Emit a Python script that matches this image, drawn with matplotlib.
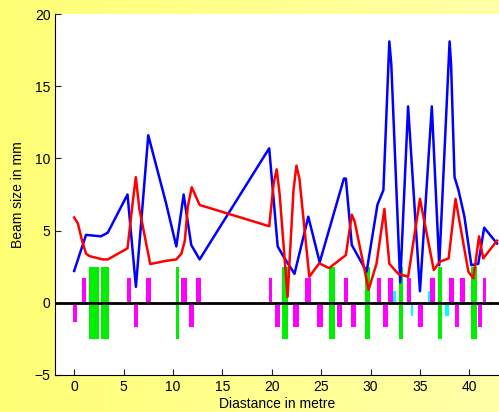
import numpy as np
import matplotlib.pyplot as plt

plt.rcParams['font.family'] = ['Liberation Sans', 'DejaVu Sans']

# beam envelopes along the line (metres, mm)
blue_s = [0.0, 1.2, 2.7, 3.4, 5.4, 6.25, 7.5, 9.3, 10.34, 11.08, 11.85, 12.7,
          19.74, 20.6, 21.1, 22.3, 23.7, 24.85, 27.3, 27.5, 28.1, 29.6, 30.7,
          31.3, 31.9, 32.1, 33.0, 33.8, 35.0, 36.2, 36.95, 38.0, 38.15, 38.5,
          38.9, 39.5, 40.2, 40.9, 41.5, 42.8]
blue_y = [2.2, 4.7, 4.6, 4.85, 7.5, 1.1, 11.6, 6.9, 3.9, 7.5, 4.0, 3.0,
          10.7, 3.9, 3.3, 2.0, 5.96, 2.8, 8.6, 8.6, 4.0, 2.15, 6.8,
          7.8, 18.1, 16.5, 1.4, 13.6, 0.8, 13.6, 2.6, 18.1, 16.5, 8.7,
          7.8, 5.96, 2.6, 2.7, 5.2, 4.1]

red_s = [0.0, 0.37, 0.8, 1.2, 1.55, 2.9, 3.4, 5.4, 5.9, 6.24, 6.6, 7.7, 9.27,
         10.34, 10.85, 11.2, 11.5, 11.9, 12.7, 19.74, 20.2, 20.5, 20.8,
         21.6, 22.2, 22.5, 22.8, 23.8, 24.8, 25.8, 27.5, 28.1, 28.4, 29.8,
         30.6, 31.4, 31.9, 32.8, 33.8, 35.0, 36.4, 37.0, 37.9, 38.6, 39.9,
         40.4, 40.98, 41.4, 42.8]
red_y = [5.9, 5.5, 4.3, 3.4, 3.23, 3.0, 3.0, 3.77, 6.8, 8.7, 6.5, 2.68, 2.9,
         3.0, 3.4, 4.3, 6.65, 8.0, 6.77, 5.3, 8.3, 9.24, 7.5,
         0.4, 7.8, 9.5, 8.6, 1.8, 2.73, 2.4, 3.3, 6.1, 5.6, 0.9,
         2.7, 6.5, 2.7, 2.0, 1.8, 7.2, 2.26, 2.84, 3.07, 7.2, 2.15,
         1.7, 4.6, 3.07, 4.3]

# lattice elements: centre, length, strength
mag_s = [0.13, 1.01, 5.57, 6.23, 7.52, 11.1, 11.85, 12.55, 19.88, 20.55,
         22.5, 23.7, 24.9, 26.85, 27.5, 28.25, 30.9, 31.55, 32.03, 33.9,
         35.07, 36.25, 38.17, 38.73, 39.33, 41.05, 41.52]
mag_w = [0.4, 0.4, 0.38, 0.4, 0.44, 0.6, 0.5, 0.5, 0.37, 0.5,
         0.6, 0.6, 0.6, 0.5, 0.4, 0.5, 0.4, 0.5, 0.45, 0.47,
         0.45, 0.5, 0.45, 0.46, 0.46, 0.45, 0.37]
mag_h = [-1.3, 1.7, 1.7, -1.7, 1.7, 1.7, -1.7, 1.7, 1.7, -1.7,
         -1.7, 1.7, -1.7, -1.7, 1.7, -1.7, 1.7, -1.7, 1.7, 1.7,
         -1.7, 1.7, 1.7, -1.7, 1.7, -1.7, 1.7]

grn_s = [2.04, 3.1, 10.43, 21.34, 26.1, 29.65, 33.08, 37.05, 40.5]
grn_w = [1.0, 0.77, 0.33, 0.52, 0.7, 0.5, 0.36, 0.37, 0.6]

cyn_s = [32.45, 34.2, 35.93, 37.74]
cyn_w = [0.3, 0.2, 0.25, 0.45]
cyn_h = [0.83, -0.9, 0.83, -0.9]

fig = plt.figure(figsize=(4.99, 4.12), dpi=100)

# yellow backdrop fading to the right
bg = fig.add_axes([0, 0, 1, 1], zorder=0)
grad = np.linspace(0, 1, 256).reshape(1, -1)
c0 = np.array([1.0, 1.0, 0.46])
c1 = np.array([1.0, 1.0, 0.66])
img = c0 + (c1 - c0) * grad[..., None]
bg.imshow(img, aspect='auto', extent=[0, 1, 0, 1])
bg.axis('off')

ax = fig.add_axes([0.111, 0.09, 0.889, 0.876], zorder=1)
ax.set_facecolor('white')

ax.bar(mag_s, mag_h, width=mag_w, color='#ff00ff', zorder=2)
ax.bar(grn_s, [5.0] * len(grn_s), width=grn_w, bottom=-2.5, color='#00ee00', zorder=3)
ax.bar(cyn_s, cyn_h, width=cyn_w, color='#00ffff', zorder=2)
ax.axhline(0, color='black', lw=2, zorder=4)

ax.plot(blue_s, blue_y, color='blue', lw=1.8, zorder=5)
ax.plot(red_s, red_y, color='red', lw=1.8, zorder=5)

ax.set_xlim(-1.9, 43)
ax.set_ylim(-5, 20)
ax.set_xticks([0, 5, 10, 15, 20, 25, 30, 35, 40])
ax.set_yticks([-5, 0, 5, 10, 15, 20])
ax.tick_params(direction='in', length=4, labelsize=10, color='#222222')
ax.spines['top'].set_visible(False)
ax.spines['right'].set_visible(False)
ax.set_xlabel('Diastance in metre', fontsize=10, labelpad=2)
ax.set_ylabel('Beam size in mm', fontsize=10, labelpad=7)

fig.savefig('out.png', dpi=100)
